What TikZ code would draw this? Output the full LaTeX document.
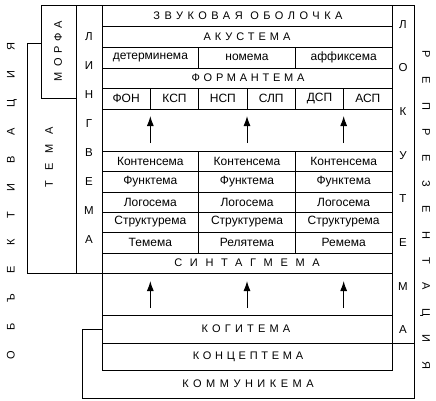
\documentclass[tikz,border=0pt]{standalone}
\usepackage{fontspec}
\setmainfont{Liberation Sans}
\usetikzlibrary{arrows.meta}
\newcommand\tcell[6]{%
  \node[cellbox, minimum width={(#4-#2)*1bp}, minimum height={(#5-#3)*1bp}]
    (#1) at ({(#2+#4)/2},{(#3+#5)/2}) {#6};}
\begin{document}
\begin{tikzpicture}[x=1bp,y=-1bp,
  line width=1bp,
  cellbox/.style={draw, inner sep=0pt, font=\fontsize{12bp}{14bp}\selectfont},
  bigcell/.style={font=\fontsize{12.5bp}{14bp}\selectfont},
  ls/.style={font=\fontsize{11bp}{13bp}\selectfont\addfontfeature{LetterSpace=#1}},
  plain/.style={inner sep=0pt},
  uparrow/.style={-{Latex[length=10bp,width=7bp]}, line width=1bp}]
\useasboundingbox (0,0) rectangle (436,400);
% main table rows
\tcell{zo}{102}{5}{392}{26}{}
\node[plain, ls=41] (zot) at (248,15.5) {ЗВУКОВАЯ ОБОЛОЧКА};
\tcell{ak}{102}{26}{392}{47}{}
\node[plain, ls=36] (akt) at (247,36.5) {АКУСТЕМА};
\tcell{det}{102}{47}{198.67}{68}{детерминема}
\tcell{nom}{198.67}{47}{295.33}{68}{номема}
\tcell{aff}{295.33}{47}{392}{68}{аффиксема}
\tcell{fo}{102}{68}{392}{88}{}
\node[plain, ls=34] (fot) at (248,78) {ФОРМАНТЕМА};
\begin{scope}[every node/.append style={bigcell}]
\tcell{c1}{102}{88}{150.33}{109}{ФОН}
\tcell{c2}{150.33}{88}{198.67}{109}{КСП}
\tcell{c3}{198.67}{88}{247}{109}{НСП}
\tcell{c4}{247}{88}{295.33}{109}{СЛП}
\tcell{c5}{295.33}{88}{343.67}{109}{ДСП}
\tcell{c6}{343.67}{88}{392}{109}{АСП}
\end{scope}
\tcell{gap1}{102}{109}{392}{151}{}
% three-column block
\tcell{k1}{102}{151}{198.67}{171}{Контенсема}
\tcell{k2}{198.67}{151}{295.33}{171}{Контенсема}
\tcell{k3}{295.33}{151}{392}{171}{Контенсема}
\tcell{f1}{102}{171}{198.67}{192}{Функтема}
\tcell{f2}{198.67}{171}{295.33}{192}{Функтема}
\tcell{f3}{295.33}{171}{392}{192}{Функтема}
\tcell{l1}{102}{192}{198.67}{212}{Логосема}
\tcell{l2}{198.67}{192}{295.33}{212}{Логосема}
\tcell{l3}{295.33}{192}{392}{212}{Логосема}
\tcell{s1}{102}{212}{198.67}{232}{Структурема}
\tcell{s2}{198.67}{212}{295.33}{232}{Структурема}
\tcell{s3}{295.33}{212}{392}{232}{Структурема}
\tcell{t1}{102}{232}{198.67}{253}{Темема}
\tcell{t2}{198.67}{232}{295.33}{253}{Релятема}
\tcell{t3}{295.33}{232}{392}{253}{Ремема}
\tcell{sin}{102}{253}{392}{273}{}
\node[plain, ls=70] (sint) at (247,263) {СИНТАГМЕМА};
\tcell{gap2}{102}{273}{392}{315}{}
\tcell{kog}{102}{315}{392}{343}{}
\node[plain, ls=38] (kogt) at (246,329) {КОГИТЕМА};
\tcell{kon}{102}{343}{392}{370}{}
\node[plain, ls=34] (kont) at (248,356.5) {КОНЦЕПТЕМА};
% communicema outline
\draw (102,329) -- (82,329) -- (82,398) -- (414,398) -- (414,343);
\node[plain, ls=41] (komt) at (248,384) {КОММУНИКЕМА};
% side columns
\tcell{lin}{76}{5}{102}{273}{}
\node[plain, align=center, font=\fontsize{11.5bp}{29bp}\selectfont] (lint) at (89,138.5)
  {Л\\И\\Н\\Г\\В\\Е\\М\\А};
\tcell{lok}{392}{5}{414}{343}{}
\node[plain, align=center, font=\fontsize{11.5bp}{43.7bp}\selectfont] (lokt) at (403,177)
  {Л\\О\\К\\У\\Т\\Е\\М\\А};
\tcell{mor}{41}{5}{76}{98}{}
\node[plain, ls=45, rotate=90] (mort) at (58,51) {МОРФА};
\draw (41,43) -- (27,43) -- (27,273) -- (76,273);
\node[plain, ls=90, rotate=90] (temt) at (49,157) {ТЕМА};
\node[plain, ls=187, rotate=90] (obt) at (12,201) {ОБЪЕКТИВАЦИЯ};
\node[plain, ls=168, rotate=-90] (rept) at (425,210) {РЕПРЕЗЕНТАЦИЯ};
% arrows
\coordinate (a1s) at (150.33,143); \coordinate (a1e) at (150.33,116);
\coordinate (a2s) at (247,143);    \coordinate (a2e) at (247,116);
\coordinate (a3s) at (343.67,143); \coordinate (a3e) at (343.67,116);
\coordinate (b1s) at (150.33,308); \coordinate (b1e) at (150.33,281);
\coordinate (b2s) at (247,308);    \coordinate (b2e) at (247,281);
\coordinate (b3s) at (343.67,308); \coordinate (b3e) at (343.67,281);
\foreach \p in {a1,a2,a3,b1,b2,b3} \draw[uparrow] (\p s) -- (\p e);
\end{tikzpicture}
\end{document}
